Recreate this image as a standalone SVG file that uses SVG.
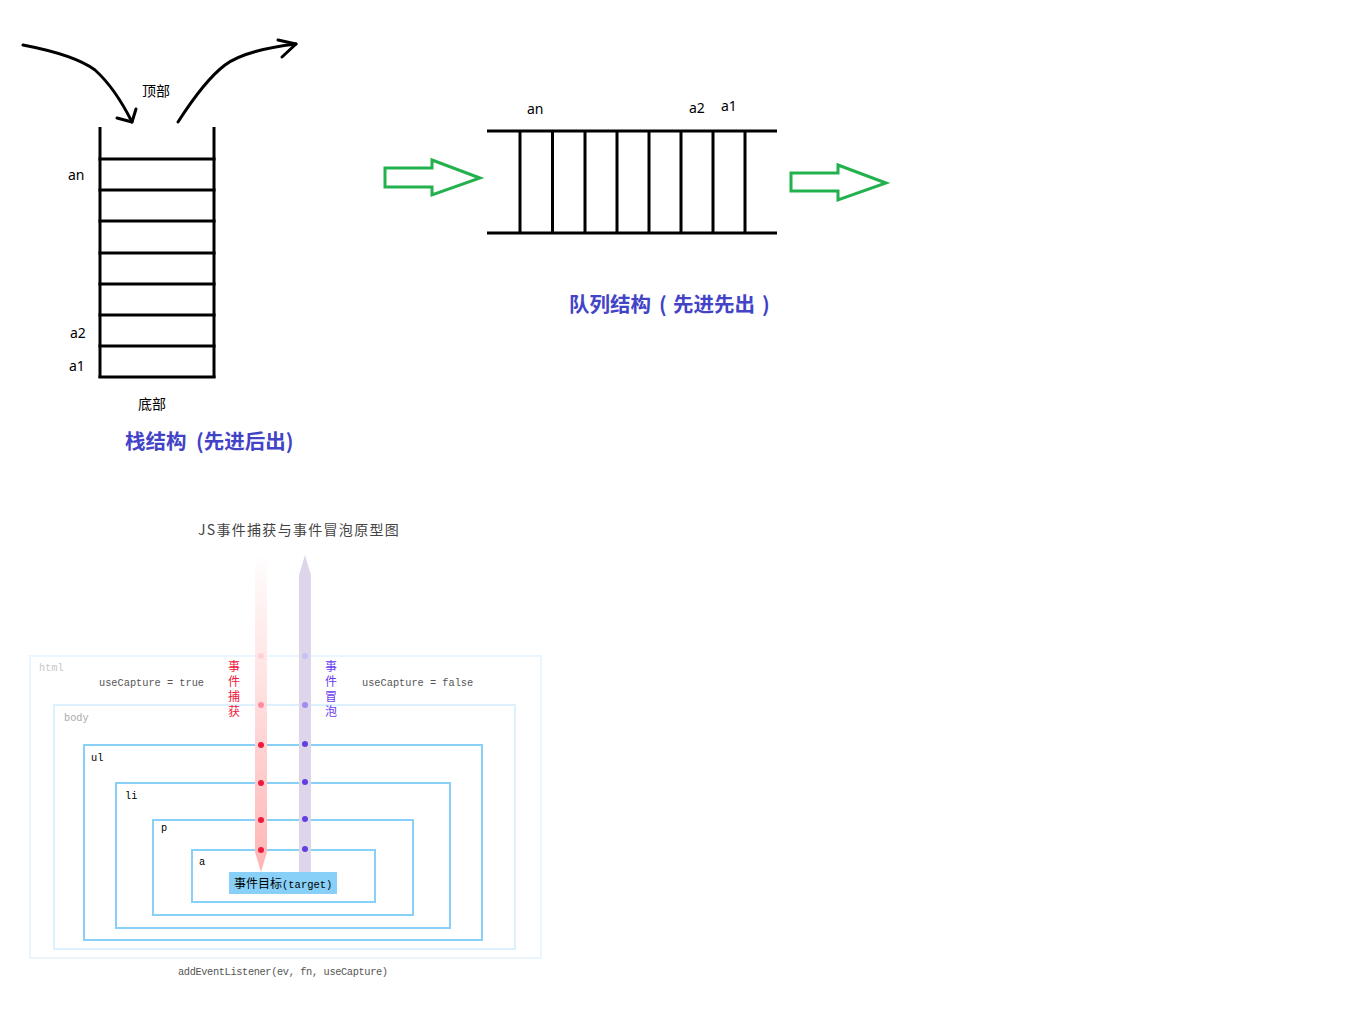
<svg xmlns="http://www.w3.org/2000/svg" width="1364" height="1028" viewBox="0 0 1364 1028">
<style>
.blk{stroke:#000;stroke-width:3;fill:none}
.hand{stroke:#000;stroke-width:3;fill:none;stroke-linecap:round;stroke-linejoin:round}
.lbl{font-family:"Noto Sans","Noto Sans CJK SC",sans-serif;font-size:14px;fill:#000}
.title{font-family:"Noto Sans CJK SC","Noto Sans",sans-serif;font-size:20.5px;font-weight:bold;fill:#4343c8}
.green{stroke:#22b14c;stroke-width:3;fill:none}
.mono{font-family:"Liberation Mono","Noto Sans CJK SC",monospace;font-size:10.3px}
.cjk{font-family:"Noto Sans CJK SC",sans-serif;font-size:12px}
.box{fill:none;stroke:#88d0f8;stroke-width:2}
</style>
<defs>
<linearGradient id="capg" x1="0" y1="555" x2="0" y2="872" gradientUnits="userSpaceOnUse">
<stop offset="0" stop-color="#ffdede" stop-opacity="0"/>
<stop offset="0.35" stop-color="#ffe6e6"/>
<stop offset="1" stop-color="#ffb4b4"/>
</linearGradient>
</defs>
<rect width="1364" height="1028" fill="#fff"/>

<g id="stack">
<line class="blk" x1="100" y1="127" x2="100" y2="378"/>
<line class="blk" x1="214" y1="127" x2="214" y2="378"/>
<line class="blk" x1="98.5" y1="159" x2="215.5" y2="159"/>
<line class="blk" x1="98.5" y1="190" x2="215.5" y2="190"/>
<line class="blk" x1="98.5" y1="221" x2="215.5" y2="221"/>
<line class="blk" x1="98.5" y1="253" x2="215.5" y2="253"/>
<line class="blk" x1="98.5" y1="284" x2="215.5" y2="284"/>
<line class="blk" x1="98.5" y1="315" x2="215.5" y2="315"/>
<line class="blk" x1="98.5" y1="346" x2="215.5" y2="346"/>
<line class="blk" x1="98.5" y1="377" x2="215.5" y2="377"/>
<text class="lbl" x="68" y="180">an</text>
<text class="lbl" x="70" y="338">a2</text>
<text class="lbl" x="69" y="371">a1</text>
<text class="lbl" x="138" y="409">底部</text>
<text class="lbl" x="142" y="96">顶部</text>
<text class="title" x="125" y="449">栈结构<tspan x="196">(先进后出)</tspan></text>
</g>

<g id="stack-arrows">
<path class="hand" d="M23,45 Q75,55 95,70 Q115,88 132,122"/>
<path class="hand" d="M117,118 L132,122 L136,109"/>
<path class="hand" d="M178,122 Q205,80 225,65 Q245,50 296,44"/>
<path class="hand" d="M278,40 L296,44 L282,57"/>
</g>

<g id="queue">
<line class="blk" x1="487" y1="131" x2="777" y2="131"/>
<line class="blk" x1="487" y1="233" x2="777" y2="233"/>
<line class="blk" x1="520" y1="131" x2="520" y2="233"/>
<line class="blk" x1="552.5" y1="131" x2="552.5" y2="233"/>
<line class="blk" x1="585" y1="131" x2="585" y2="233"/>
<line class="blk" x1="617" y1="131" x2="617" y2="233"/>
<line class="blk" x1="649" y1="131" x2="649" y2="233"/>
<line class="blk" x1="681" y1="131" x2="681" y2="233"/>
<line class="blk" x1="713" y1="131" x2="713" y2="233"/>
<line class="blk" x1="745" y1="131" x2="745" y2="233"/>
<text class="lbl" x="527" y="114">an</text>
<text class="lbl" x="689" y="113">a2</text>
<text class="lbl" x="721" y="111">a1</text>
<text class="title" x="569" y="312">队列结构<tspan x="659">(</tspan><tspan x="673">先进先出</tspan><tspan x="762">)</tspan></text>
</g>

<g id="queue-arrows">
<path class="green" d="M385,168 L432,168 L432,160 L480,178 L432,195 L432,187 L385,187 Z"/>
<path class="green" d="M791,173 L838,173 L838,165 L886,183 L838,200 L838,191 L791,191 Z"/>
</g>

<g id="event-diagram">
<text x="198" y="535" font-family="'Noto Sans CJK SC',sans-serif" font-size="14" letter-spacing="1.3" fill="#444">JS事件捕获与事件冒泡原型图</text>
<rect x="30" y="656" width="511" height="302" fill="none" stroke="#eaf5fd" stroke-width="2"/>
<rect x="54" y="705" width="461" height="244" fill="none" stroke="#dcf0fd" stroke-width="2"/>
<rect class="box" x="84" y="745" width="398" height="195"/>
<rect class="box" x="116" y="783" width="334" height="145"/>
<rect class="box" x="153" y="820" width="260" height="95"/>
<rect class="box" x="192" y="850" width="183" height="52"/>
<text class="mono" x="39" y="671" fill="#c8c8c8">html</text>
<text class="mono" x="64" y="721" fill="#aaa">body</text>
<text class="mono" x="91" y="761" fill="#000">ul</text>
<text class="mono" x="125" y="799" fill="#000">li</text>
<text class="mono" x="161" y="831" fill="#000">p</text>
<text class="mono" x="199" y="865" fill="#000">a</text>
<text class="mono" x="99" y="686" fill="#555">useCapture = true</text>
<text class="mono" x="362" y="686" fill="#555">useCapture = false</text>
<text class="mono" x="178" y="975" fill="#555" font-size="9.5" textLength="210" lengthAdjust="spacing">addEventListener(ev, fn, useCapture)</text>
</g>

<g id="capture-arrow">
<path d="M255,555 L267,555 L267,852 L261,872 L255,852 Z" fill="url(#capg)"/>
<text class="cjk" x="228" y="671" fill="#f0183c">事</text>
<text class="cjk" x="228" y="686" fill="#f0183c">件</text>
<text class="cjk" x="228" y="701" fill="#f0183c">捕</text>
<text class="cjk" x="228" y="716" fill="#f0183c">获</text>
<circle cx="261" cy="656" r="3" fill="#ffd0d6"/>
<circle cx="261" cy="705" r="3" fill="#ff8ca0"/>
<circle cx="261" cy="745" r="3" fill="#f01a3c"/>
<circle cx="261" cy="783" r="3" fill="#f01a3c"/>
<circle cx="261" cy="820" r="3" fill="#f01a3c"/>
<circle cx="261" cy="850" r="3" fill="#f01a3c"/>
</g>

<g id="bubble-arrow">
<path d="M299,872 L299,575 L305,555 L311,575 L311,872 Z" fill="#ddd5ea"/>
<text class="cjk" x="325" y="671" fill="#6a3cf0">事</text>
<text class="cjk" x="325" y="686" fill="#6a3cf0">件</text>
<text class="cjk" x="325" y="701" fill="#6a3cf0">冒</text>
<text class="cjk" x="325" y="716" fill="#6a3cf0">泡</text>
<circle cx="305" cy="656" r="3" fill="#cbc0f4"/>
<circle cx="305" cy="705" r="3" fill="#a08cf0"/>
<circle cx="305" cy="744" r="3" fill="#6040e0"/>
<circle cx="305" cy="782" r="3" fill="#6040e0"/>
<circle cx="305" cy="819" r="3" fill="#6040e0"/>
<circle cx="305" cy="849" r="3" fill="#6040e0"/>
</g>

<g id="target">
<rect x="229" y="872" width="108" height="22" fill="#88d0f8"/>
<text x="234" y="888" font-family="'Noto Sans CJK SC',sans-serif" font-size="12" fill="#000">事件目标<tspan font-family="'Liberation Mono',monospace" font-size="10.5">(target)</tspan></text>
</g>
</svg>
